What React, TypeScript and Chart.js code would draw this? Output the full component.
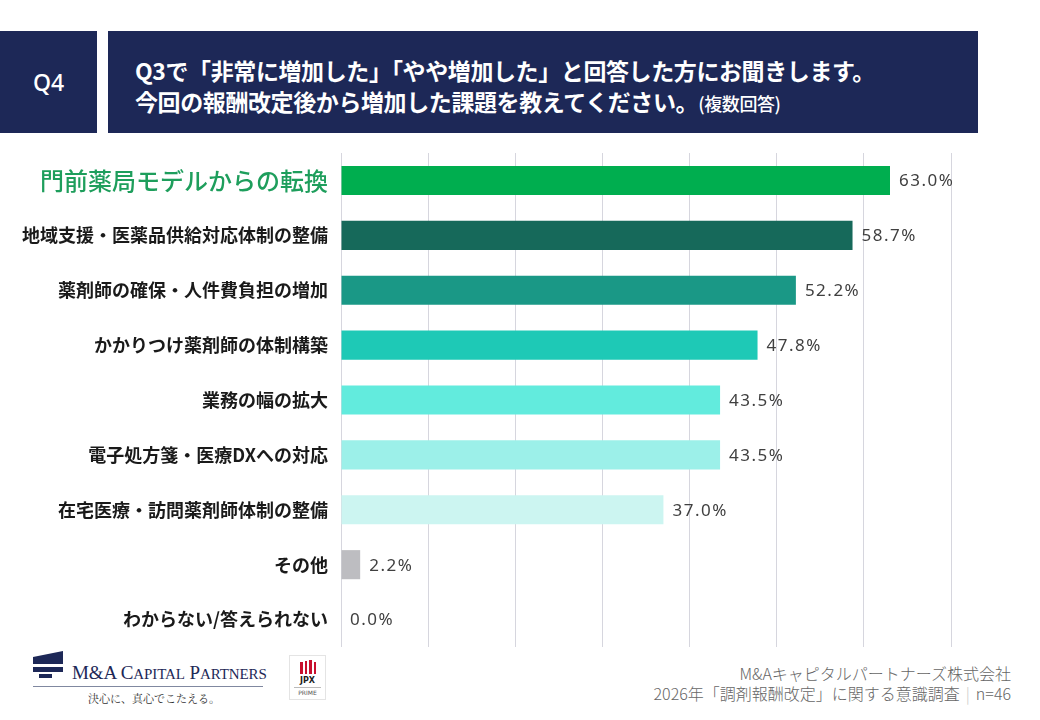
import React, { useEffect, useRef } from "react";
import { Chart, registerables } from "chart.js";

Chart.register(...registerables);

const categories = [
  "門前薬局モデルからの転換",
  "地域支援・医薬品供給対応体制の整備",
  "薬剤師の確保・人件費負担の増加",
  "かかりつけ薬剤師の体制構築",
  "業務の幅の拡大",
  "電子処方箋・医療DXへの対応",
  "在宅医療・訪問薬剤師体制の整備",
  "その他",
  "わからない/答えられない",
];
const values = [63.0, 58.7, 52.2, 47.8, 43.5, 43.5, 37.0, 2.2, 0.0];
const barColors = [
  "#00AE4F",
  "#16695A",
  "#1A9886",
  "#1EC9B6",
  "#62EBDD",
  "#9CF0E9",
  "#CCF5F1",
  "#BDBDC1",
  "#BDBDC1",
];
const xTicks = [0, 10, 20, 30, 40, 50, 60, 70];

const FONT = "'Noto Sans CJK JP', 'Noto Sans', sans-serif";

const valueLabels = {
  id: "valueLabels",
  afterDatasetsDraw(chart: any) {
    const ctx = chart.ctx;
    const meta = chart.getDatasetMeta(0);
    ctx.save();
    ctx.font = `17px 'Noto Sans', 'Open Sans', sans-serif`;
    try {
      (ctx as any).letterSpacing = "1.5px";
    } catch (e) {}
    ctx.fillStyle = "#404040";
    ctx.textAlign = "left";
    ctx.textBaseline = "middle";
    meta.data.forEach((bar: any, i: number) => {
      const v = values[i];
      ctx.fillText(v.toFixed(1) + "%", bar.x + 9, bar.y + 1);
    });
    ctx.restore();
  },
};

function BarChart() {
  const ref = useRef<HTMLCanvasElement | null>(null);
  useEffect(() => {
    if (!ref.current) return;
    const chart = new Chart(ref.current, {
      type: "bar",
      data: {
        labels: categories,
        datasets: [
          {
            data: values,
            backgroundColor: barColors,
            borderWidth: 0,
            barPercentage: 0.53,
            categoryPercentage: 1,
          },
        ],
      },
      plugins: [valueLabels],
      options: {
        indexAxis: "y",
        animation: false,
        responsive: false,
        maintainAspectRatio: false,
        layout: { padding: { left: 0, right: 49, top: 0, bottom: 0 } },
        plugins: { legend: { display: false }, tooltip: { enabled: false } },
        scales: {
          x: {
            min: 0,
            max: 70,
            afterBuildTicks: (s: any) => {
              s.ticks = xTicks.map((v) => ({ value: v }));
            },
            afterFit: (s: any) => {
              s.height = 0;
            },
            ticks: { display: false },
            border: { display: false },
            grid: { color: "#D6D6DE", lineWidth: 1, drawTicks: false },
          },
          y: {
            afterFit: (s: any) => {
              s.width = 341;
              s.paddingTop = 0;
              s.paddingBottom = 0;
            },
            border: { display: false },
            grid: { display: false, drawTicks: false },
            ticks: {
              padding: 13,
              color: (c: any) => (c.index === 0 ? "#1E9E5C" : "#1A1A1A"),
              font: (c: any) => ({
                family: FONT,
                size: c.index === 0 ? 24 : 18,
                weight: c.index === 0 ? "500" : "bold",
              }),
            },
          },
        },
      },
    } as any);
    return () => chart.destroy();
  }, []);
  return <canvas ref={ref} width={1000} height={494} style={{ width: 1000, height: 494 }} />;
}

export default function App() {
  const navy = "#1D2857";
  return (
    <div
      style={{
        position: "fixed",
        left: 0,
        top: 0,
        width: 1040,
        height: 720,
        background: "#ffffff",
        fontFamily: FONT,
        overflow: "hidden",
      }}
    >
      {/* Header */}
      <div
        style={{
          position: "absolute",
          left: 0,
          top: 31,
          width: 97,
          height: 102,
          background: navy,
          color: "#fff",
          display: "flex",
          alignItems: "center",
          justifyContent: "center",
          fontSize: 23,
          fontWeight: 500,
          fontFamily: "'Noto Sans', sans-serif",
        }}
      >
        Q4
      </div>
      <div
        style={{
          position: "absolute",
          left: 108,
          top: 31,
          width: 870,
          height: 102,
          background: navy,
          color: "#fff",
        }}
      >
        <div
          style={{
            position: "absolute",
            left: 27,
            top: 24,
            fontSize: 23,
            fontWeight: 700,
            lineHeight: "31px",
            whiteSpace: "nowrap",
            letterSpacing: -0.4,
          }}
        >
          <div>Q3で「非常に増加した」「やや増加した」と回答した方にお聞きします。</div>
          <div>
            今回の報酬改定後から増加した課題を教えてください。
            <span style={{ fontSize: 18, fontWeight: 500 }}>(複数回答)</span>
          </div>
        </div>
      </div>

      {/* Chart */}
      <div style={{ position: "absolute", left: 0, top: 153, width: 1000, height: 494 }}>
        <BarChart />
      </div>

      {/* Footer logo */}
      <div style={{ position: "absolute", left: 33, top: 651 }}>
        <div style={{ position: "absolute", left: 0, top: 0, width: 30, height: 6, background: navy, clipPath: "polygon(0 100%, 100% 0, 100% 100%)" }} />
        <div style={{ position: "absolute", left: 0, top: 6, width: 30, height: 7, background: navy }} />
        <div style={{ position: "absolute", left: 0, top: 16, width: 30, height: 5, background: navy }} />
        <div style={{ position: "absolute", left: 6, top: 23, width: 13, height: 4, background: navy }} />
      </div>
      <div
        style={{
          position: "absolute",
          left: 72,
          top: 663,
          fontFamily: "'Liberation Serif', 'DejaVu Serif', serif",
          fontSize: 19,
          color: "#1D2857",
          whiteSpace: "nowrap",
          letterSpacing: -0.1,
          lineHeight: "20px",
        }}
      >
        M&amp;A C<span style={{ fontSize: 15 }}>APITAL</span> P<span style={{ fontSize: 15 }}>ARTNERS</span>
      </div>
      <div style={{ position: "absolute", left: 33, top: 686, width: 230, height: 1, background: "#8088A0" }} />
      <div
        style={{
          position: "absolute",
          left: 88,
          top: 690,
          fontFamily: "'Noto Serif CJK JP', 'Noto Sans CJK JP', serif",
          fontSize: 11,
          color: "#333",
          whiteSpace: "nowrap",
        }}
      >
        決心に、真心でこたえる。
      </div>
      {/* JPX */}
      <div
        style={{
          position: "absolute",
          left: 289,
          top: 655,
          width: 37,
          height: 45,
          border: "1px solid #e4e4e4",
          boxSizing: "border-box",
          background: "#fff",
        }}
      >
        <div style={{ position: "absolute", left: 10, top: 4, display: "flex", gap: 2 }}>
          {[12, 13, 14, 12].map((h, i) => (
            <div key={i} style={{ width: 2.5, height: h, background: "#C8102E", marginTop: 14 - h }} />
          ))}
        </div>
        <div style={{ position: "absolute", left: 0, top: 20, width: 35, textAlign: "center", fontSize: 8, fontWeight: 700, color: "#222", fontFamily: "'DejaVu Sans', sans-serif" }}>JPX</div>
        <div style={{ position: "absolute", left: 4, top: 31, width: 27, height: 1, background: "#bbb" }} />
        <div style={{ position: "absolute", left: 0, top: 33, width: 35, textAlign: "center", fontSize: 6, color: "#555", fontFamily: "'DejaVu Sans', sans-serif" }}>PRIME</div>
      </div>

      {/* Footer text */}
      <div
        style={{
          position: "absolute",
          right: 29,
          top: 663,
          textAlign: "right",
          fontSize: 16,
          fontWeight: 300,
          lineHeight: "20px",
          color: "#666666",
          whiteSpace: "nowrap",
        }}
      >
        <div>M&amp;Aキャピタルパートナーズ株式会社</div>
        <div>
          2026年「調剤報酬改定」に関する意識調査<span style={{ color: "#C8C8C8", margin: "0 6px" }}>|</span>n=46
        </div>
      </div>
    </div>
  );
}
